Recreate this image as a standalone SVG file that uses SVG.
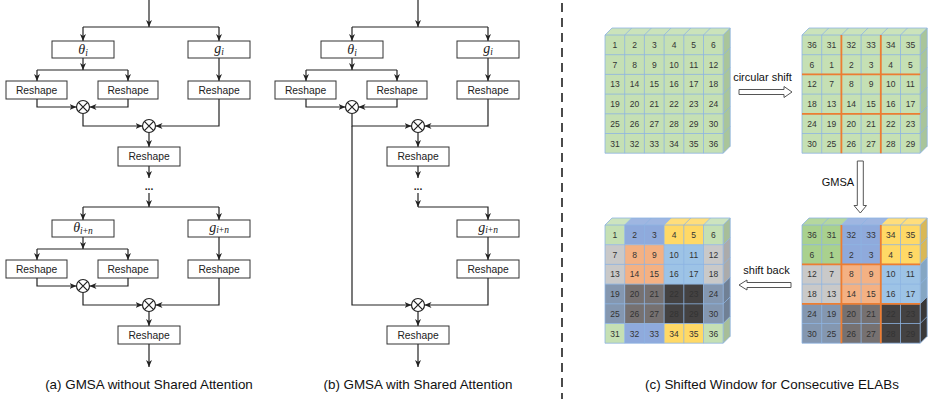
<svg xmlns="http://www.w3.org/2000/svg" width="930" height="399" viewBox="0 0 930 399">
<style>
.box{fill:#fff;stroke:#333;stroke-width:1}
.lbl{font-family:"Liberation Sans",Arial,sans-serif;font-size:10.3px;text-anchor:middle;fill:#222}
.math{font-family:"Liberation Serif","Times New Roman",serif;font-style:italic;font-size:14px;text-anchor:middle;fill:#222}
.ln{fill:none;stroke:#222;stroke-width:1.2}
.arr{marker-end:url(#ah)}
.cap{font-family:"Liberation Sans",Arial,sans-serif;font-size:13.4px;text-anchor:middle;fill:#111}
.num{font-family:"Liberation Sans",Arial,sans-serif;font-size:8.5px;text-anchor:middle;fill:#333}
.gl{fill:none;stroke:#8DB4E2;stroke-width:0.8}
.og{fill:none;stroke:#ED7D31;stroke-width:1.8}
.ha{fill:#fff;stroke:#555;stroke-width:1}
.ot{fill:#fff;stroke:#222;stroke-width:1.2}
.lt{font-family:"Liberation Sans",Arial,sans-serif;font-size:11px;text-anchor:middle;fill:#111}
</style>
<defs>
<marker id="ah" markerWidth="7" markerHeight="6" refX="7" refY="3" orient="auto" markerUnits="userSpaceOnUse"><path d="M0,0 L7,3 L0,6 L2,3 z" fill="#222"/></marker>
<g id="gridlines">
<path class="gl" d="M0,0 H118.2 V118.2 H0 Z M19.7,0 V118.2 M39.4,0 V118.2 M59.1,0 V118.2 M78.8,0 V118.2 M98.5,0 V118.2 M0,19.7 H118.2 M0,39.4 H118.2 M0,59.1 H118.2 M0,78.8 H118.2 M0,98.5 H118.2 M0,0 L7,-7 H125.2 L118.2,0 M19.7,0 l7,-7 M39.4,0 l7,-7 M59.1,0 l7,-7 M78.8,0 l7,-7 M98.5,0 l7,-7 M125.2,-7 V111.2 L118.2,118.2 M118.2,19.7 l7,-7 M118.2,39.4 l7,-7 M118.2,59.1 l7,-7 M118.2,78.8 l7,-7 M118.2,98.5 l7,-7"/>
</g>
<path id="orange" class="og" d="M39.4,0 V118.2 M78.8,0 V118.2 M0,39.4 H118.2 M0,78.8 H118.2"/>
<g id="otimes"><circle class="ot" cx="0" cy="0" r="6.5"/><path class="ln" d="M-4.6,-4.6 L4.6,4.6 M-4.6,4.6 L4.6,-4.6"/></g>
</defs>

<g id="connectors">
<!-- (a) -->
<path class="ln arr" d="M149,0 V27"/>
<path class="ln" d="M83,27 H219"/>
<path class="ln arr" d="M83,27 V41"/>
<path class="ln arr" d="M219,27 V41"/>
<path class="ln arr" d="M83,58 V70"/>
<path class="ln" d="M37,70 H128"/>
<path class="ln arr" d="M37,70 V81"/>
<path class="ln arr" d="M128,70 V81"/>
<path class="ln arr" d="M219,58 V81"/>
<path class="ln arr" d="M37,99 V107 H76.5"/>
<path class="ln arr" d="M128,99 V107 H89.5"/>
<path class="ln arr" d="M83,113.5 V126 H142.5"/>
<path class="ln arr" d="M219,99 V126 H155.5"/>
<path class="ln arr" d="M149,132.5 V147"/>
<path class="ln arr" d="M149,166 V178"/>
<path class="ln arr" d="M149,193 V207"/>
<path class="ln" d="M83,207 H219"/>
<path class="ln arr" d="M83,207 V220"/>
<path class="ln arr" d="M219,207 V220"/>
<path class="ln arr" d="M83,237 V249"/>
<path class="ln" d="M37,249 H128"/>
<path class="ln arr" d="M37,249 V260"/>
<path class="ln arr" d="M128,249 V260"/>
<path class="ln arr" d="M219,237 V260"/>
<path class="ln arr" d="M37,278 V286 H76.5"/>
<path class="ln arr" d="M128,278 V286 H89.5"/>
<path class="ln arr" d="M83,292.5 V305 H142.5"/>
<path class="ln arr" d="M219,278 V305 H155.5"/>
<path class="ln arr" d="M149,311.5 V326"/>
<path class="ln arr" d="M149,344 V367"/>
<!-- (b) -->
<path class="ln arr" d="M418,0 V27"/>
<path class="ln" d="M352,27 H488"/>
<path class="ln arr" d="M352,27 V41"/>
<path class="ln arr" d="M488,27 V41"/>
<path class="ln arr" d="M352,58 V70"/>
<path class="ln" d="M306,70 H397"/>
<path class="ln arr" d="M306,70 V81"/>
<path class="ln arr" d="M397,70 V81"/>
<path class="ln arr" d="M488,58 V81"/>
<path class="ln arr" d="M306,99 V107 H345.5"/>
<path class="ln arr" d="M397,99 V107 H358.5"/>
<path class="ln arr" d="M352,113.5 V126 H411.5"/>
<path class="ln arr" d="M352,126 V305 H411.5"/>
<path class="ln arr" d="M488,99 V126 H424.5"/>
<path class="ln arr" d="M418,132.5 V147"/>
<path class="ln arr" d="M418,166 V178"/>
<path class="ln arr" d="M418,193 V207"/>
<path class="ln arr" d="M418,207 H488 V220"/>
<path class="ln arr" d="M488,237 V260"/>
<path class="ln arr" d="M488,278 V305 H424.5"/>
<path class="ln arr" d="M418,311.5 V326"/>
<path class="ln arr" d="M418,344 V367"/>
<!-- (c) hollow arrows -->
<polygon class="ha" points="739,89.5 784,89.5 784,86.5 792,92 784,97.5 784,94.5 739,94.5"/>
<polygon class="ha" points="857.3,161 863.3,161 863.3,205.5 866.5,205.5 860.3,213 854,205.5 857.3,205.5"/>
<polygon class="ha" points="791,282.5 747,282.5 747,280 739,285 747,290 747,287.5 791,287.5"/>
</g>

<line x1="562" y1="3" x2="562" y2="399" stroke="#111" stroke-width="1.5" stroke-dasharray="9,6"/>

<!-- (a) nodes -->
<g id="a-theta-i"><rect class="box" x="52" y="41" width="62" height="17"/><text class="math" x="83" y="53.5">θ<tspan font-size="9.5" dy="2">i</tspan></text></g>
<g id="a-g-i"><rect class="box" x="188" y="41" width="62" height="17"/><text class="math" x="219" y="53">g<tspan font-size="9.5" dy="1.5">i</tspan></text></g>
<g id="a-reshape-1"><rect class="box" x="6" y="81" width="61" height="18"/><text class="lbl" x="36.5" y="93.6">Reshape</text></g>
<g id="a-reshape-2"><rect class="box" x="98" y="81" width="60" height="18"/><text class="lbl" x="128" y="93.6">Reshape</text></g>
<g id="a-reshape-3"><rect class="box" x="188" y="81" width="62" height="18"/><text class="lbl" x="219" y="93.6">Reshape</text></g>
<g id="a-mul-1"><use href="#otimes" x="83" y="107"/></g>
<g id="a-mul-2"><use href="#otimes" x="149" y="126"/></g>
<g id="a-reshape-4"><rect class="box" x="118" y="147" width="62" height="19"/><text class="lbl" x="149" y="160">Reshape</text></g>
<g id="a-dots"><text class="lbl" x="149" y="190" font-weight="bold">...</text></g>
<g id="a-theta-in"><rect class="box" x="52" y="220" width="62" height="17"/><text class="math" x="83" y="232">θ<tspan font-size="9.5" dy="2">i<tspan font-style="normal">+</tspan>n</tspan></text></g>
<g id="a-g-in"><rect class="box" x="188" y="220" width="62" height="17"/><text class="math" x="219" y="231.5">g<tspan font-size="9.5" dy="1.5">i<tspan font-style="normal">+</tspan>n</tspan></text></g>
<g id="a-reshape-5"><rect class="box" x="6" y="260" width="61" height="18"/><text class="lbl" x="36.5" y="272.6">Reshape</text></g>
<g id="a-reshape-6"><rect class="box" x="98" y="260" width="60" height="18"/><text class="lbl" x="128" y="272.6">Reshape</text></g>
<g id="a-reshape-7"><rect class="box" x="188" y="260" width="62" height="18"/><text class="lbl" x="219" y="272.6">Reshape</text></g>
<g id="a-mul-3"><use href="#otimes" x="83" y="286"/></g>
<g id="a-mul-4"><use href="#otimes" x="149" y="305"/></g>
<g id="a-reshape-8"><rect class="box" x="118" y="326" width="62" height="18"/><text class="lbl" x="149" y="338.6">Reshape</text></g>
<text class="cap" x="149" y="389">(a) GMSA without Shared Attention</text>

<!-- (b) nodes -->
<g id="b-theta-i"><rect class="box" x="321" y="41" width="62" height="17"/><text class="math" x="352" y="53.5">θ<tspan font-size="9.5" dy="2">i</tspan></text></g>
<g id="b-g-i"><rect class="box" x="457" y="41" width="62" height="17"/><text class="math" x="488" y="53">g<tspan font-size="9.5" dy="1.5">i</tspan></text></g>
<g id="b-reshape-1"><rect class="box" x="275" y="81" width="61" height="18"/><text class="lbl" x="305.5" y="93.6">Reshape</text></g>
<g id="b-reshape-2"><rect class="box" x="367" y="81" width="60" height="18"/><text class="lbl" x="397" y="93.6">Reshape</text></g>
<g id="b-reshape-3"><rect class="box" x="457" y="81" width="62" height="18"/><text class="lbl" x="488" y="93.6">Reshape</text></g>
<g id="b-mul-1"><use href="#otimes" x="352" y="107"/></g>
<g id="b-mul-2"><use href="#otimes" x="418" y="126"/></g>
<g id="b-reshape-4"><rect class="box" x="387" y="147" width="62" height="19"/><text class="lbl" x="418" y="160">Reshape</text></g>
<g id="b-dots"><text class="lbl" x="418" y="190" font-weight="bold">...</text></g>
<g id="b-g-in"><rect class="box" x="457" y="220" width="62" height="17"/><text class="math" x="488" y="231.5">g<tspan font-size="9.5" dy="1.5">i<tspan font-style="normal">+</tspan>n</tspan></text></g>
<g id="b-reshape-5"><rect class="box" x="457" y="260" width="62" height="18"/><text class="lbl" x="488" y="272.6">Reshape</text></g>
<g id="b-mul-3"><use href="#otimes" x="418" y="305"/></g>
<g id="b-reshape-6"><rect class="box" x="387" y="326" width="62" height="18"/><text class="lbl" x="418" y="338.6">Reshape</text></g>
<text class="cap" x="418" y="389">(b) GMSA with Shared Attention</text>

<!-- (c) grids -->
<g id="grid-original" transform="translate(605,35)">
<rect width="118.2" height="118.2" fill="#C5E0B4"/>
<polygon points="0,0 7,-7 125.2,-7 118.2,0" fill="#CBE3BB"/>
<polygon points="118.2,0 125.2,-7 125.2,111.2 118.2,118.2" fill="#A9C59B"/>
<use href="#gridlines"/>
<text class="num" x="9.9" y="13">1</text><text class="num" x="29.6" y="13">2</text><text class="num" x="49.3" y="13">3</text><text class="num" x="69" y="13">4</text><text class="num" x="88.7" y="13">5</text><text class="num" x="108.4" y="13">6</text>
<text class="num" x="9.9" y="32.7">7</text><text class="num" x="29.6" y="32.7">8</text><text class="num" x="49.3" y="32.7">9</text><text class="num" x="69" y="32.7">10</text><text class="num" x="88.7" y="32.7">11</text><text class="num" x="108.4" y="32.7">12</text>
<text class="num" x="9.9" y="52.4">13</text><text class="num" x="29.6" y="52.4">14</text><text class="num" x="49.3" y="52.4">15</text><text class="num" x="69" y="52.4">16</text><text class="num" x="88.7" y="52.4">17</text><text class="num" x="108.4" y="52.4">18</text>
<text class="num" x="9.9" y="72.1">19</text><text class="num" x="29.6" y="72.1">20</text><text class="num" x="49.3" y="72.1">21</text><text class="num" x="69" y="72.1">22</text><text class="num" x="88.7" y="72.1">23</text><text class="num" x="108.4" y="72.1">24</text>
<text class="num" x="9.9" y="91.8">25</text><text class="num" x="29.6" y="91.8">26</text><text class="num" x="49.3" y="91.8">27</text><text class="num" x="69" y="91.8">28</text><text class="num" x="88.7" y="91.8">29</text><text class="num" x="108.4" y="91.8">30</text>
<text class="num" x="9.9" y="111.5">31</text><text class="num" x="29.6" y="111.5">32</text><text class="num" x="49.3" y="111.5">33</text><text class="num" x="69" y="111.5">34</text><text class="num" x="88.7" y="111.5">35</text><text class="num" x="108.4" y="111.5">36</text>
</g>

<g id="grid-shifted" transform="translate(802,35)">
<rect width="118.2" height="118.2" fill="#C5E0B4"/>
<polygon points="0,0 7,-7 125.2,-7 118.2,0" fill="#CBE3BB"/>
<polygon points="118.2,0 125.2,-7 125.2,111.2 118.2,118.2" fill="#A9C59B"/>
<use href="#gridlines"/>
<use href="#orange"/>
<text class="num" x="9.9" y="13">36</text><text class="num" x="29.6" y="13">31</text><text class="num" x="49.3" y="13">32</text><text class="num" x="69" y="13">33</text><text class="num" x="88.7" y="13">34</text><text class="num" x="108.4" y="13">35</text>
<text class="num" x="9.9" y="32.7">6</text><text class="num" x="29.6" y="32.7">1</text><text class="num" x="49.3" y="32.7">2</text><text class="num" x="69" y="32.7">3</text><text class="num" x="88.7" y="32.7">4</text><text class="num" x="108.4" y="32.7">5</text>
<text class="num" x="9.9" y="52.4">12</text><text class="num" x="29.6" y="52.4">7</text><text class="num" x="49.3" y="52.4">8</text><text class="num" x="69" y="52.4">9</text><text class="num" x="88.7" y="52.4">10</text><text class="num" x="108.4" y="52.4">11</text>
<text class="num" x="9.9" y="72.1">18</text><text class="num" x="29.6" y="72.1">13</text><text class="num" x="49.3" y="72.1">14</text><text class="num" x="69" y="72.1">15</text><text class="num" x="88.7" y="72.1">16</text><text class="num" x="108.4" y="72.1">17</text>
<text class="num" x="9.9" y="91.8">24</text><text class="num" x="29.6" y="91.8">19</text><text class="num" x="49.3" y="91.8">20</text><text class="num" x="69" y="91.8">21</text><text class="num" x="88.7" y="91.8">22</text><text class="num" x="108.4" y="91.8">23</text>
<text class="num" x="9.9" y="111.5">30</text><text class="num" x="29.6" y="111.5">25</text><text class="num" x="49.3" y="111.5">26</text><text class="num" x="69" y="111.5">27</text><text class="num" x="88.7" y="111.5">28</text><text class="num" x="108.4" y="111.5">29</text>
</g>

<g id="grid-attended" transform="translate(802,225)">
<rect x="0" y="0" width="39.4" height="39.4" fill="#A9D18E"/>
<rect x="39.4" y="0" width="39.4" height="39.4" fill="#8FAADC"/>
<rect x="78.8" y="0" width="39.4" height="39.4" fill="#FFD966"/>
<rect x="0" y="39.4" width="39.4" height="39.4" fill="#C9C9C9"/>
<rect x="39.4" y="39.4" width="39.4" height="39.4" fill="#F4B183"/>
<rect x="78.8" y="39.4" width="39.4" height="39.4" fill="#9DC3E6"/>
<rect x="0" y="78.8" width="39.4" height="39.4" fill="#8497B0"/>
<rect x="39.4" y="78.8" width="39.4" height="39.4" fill="#767171"/>
<rect x="78.8" y="78.8" width="39.4" height="39.4" fill="#444242"/>
<polygon points="0,0 39.4,0 46.4,-7 7,-7" fill="#A9D18E"/>
<polygon points="39.4,0 78.8,0 85.8,-7 46.4,-7" fill="#8FAADC"/>
<polygon points="78.8,0 118.2,0 125.2,-7 85.8,-7" fill="#FFD966"/>
<polygon points="118.2,0 125.2,-7 125.2,32.4 118.2,39.4" fill="#FFD966"/>
<polygon points="118.2,39.4 125.2,32.4 125.2,71.8 118.2,78.8" fill="#9DC3E6"/>
<polygon points="118.2,78.8 125.2,71.8 125.2,111.2 118.2,118.2" fill="#444242"/>
<polygon points="0,0 7,-7 125.2,-7 118.2,0" fill="#fff" opacity="0.15"/>
<polygon points="118.2,0 125.2,-7 125.2,111.2 118.2,118.2" fill="#000" opacity="0.15"/>
<use href="#gridlines"/>
<use href="#orange"/>
<text class="num" x="9.9" y="13">36</text><text class="num" x="29.6" y="13">31</text><text class="num" x="49.3" y="13">32</text><text class="num" x="69" y="13">33</text><text class="num" x="88.7" y="13">34</text><text class="num" x="108.4" y="13">35</text>
<text class="num" x="9.9" y="32.7">6</text><text class="num" x="29.6" y="32.7">1</text><text class="num" x="49.3" y="32.7">2</text><text class="num" x="69" y="32.7">3</text><text class="num" x="88.7" y="32.7">4</text><text class="num" x="108.4" y="32.7">5</text>
<text class="num" x="9.9" y="52.4">12</text><text class="num" x="29.6" y="52.4">7</text><text class="num" x="49.3" y="52.4">8</text><text class="num" x="69" y="52.4">9</text><text class="num" x="88.7" y="52.4">10</text><text class="num" x="108.4" y="52.4">11</text>
<text class="num" x="9.9" y="72.1">18</text><text class="num" x="29.6" y="72.1">13</text><text class="num" x="49.3" y="72.1">14</text><text class="num" x="69" y="72.1">15</text><text class="num" x="88.7" y="72.1">16</text><text class="num" x="108.4" y="72.1">17</text>
<text class="num" x="9.9" y="91.8">24</text><text class="num" x="29.6" y="91.8">19</text><text class="num" x="49.3" y="91.8">20</text><text class="num" x="69" y="91.8">21</text><text class="num" x="88.7" y="91.8" fill="#111">22</text><text class="num" x="108.4" y="91.8" fill="#111">23</text>
<text class="num" x="9.9" y="111.5">30</text><text class="num" x="29.6" y="111.5">25</text><text class="num" x="49.3" y="111.5">26</text><text class="num" x="69" y="111.5">27</text><text class="num" x="88.7" y="111.5" fill="#111">28</text><text class="num" x="108.4" y="111.5" fill="#111">29</text>
</g>

<g id="grid-restored" transform="translate(605,225)">
<rect x="0" y="0" width="19.7" height="19.7" fill="#C5E0B4"/>
<rect x="98.5" y="0" width="19.7" height="19.7" fill="#C5E0B4"/>
<rect x="0" y="98.5" width="19.7" height="19.7" fill="#C5E0B4"/>
<rect x="98.5" y="98.5" width="19.7" height="19.7" fill="#C5E0B4"/>
<rect x="19.7" y="0" width="39.4" height="19.7" fill="#8FAADC"/>
<rect x="19.7" y="98.5" width="39.4" height="19.7" fill="#8FAADC"/>
<rect x="59.1" y="0" width="39.4" height="19.7" fill="#FFD966"/>
<rect x="59.1" y="98.5" width="39.4" height="19.7" fill="#FFD966"/>
<rect x="0" y="19.7" width="19.7" height="39.4" fill="#C9C9C9"/>
<rect x="98.5" y="19.7" width="19.7" height="39.4" fill="#C9C9C9"/>
<rect x="19.7" y="19.7" width="39.4" height="39.4" fill="#F4B183"/>
<rect x="59.1" y="19.7" width="39.4" height="39.4" fill="#9DC3E6"/>
<rect x="0" y="59.1" width="19.7" height="39.4" fill="#8497B0"/>
<rect x="98.5" y="59.1" width="19.7" height="39.4" fill="#8497B0"/>
<rect x="19.7" y="59.1" width="39.4" height="39.4" fill="#767171"/>
<rect x="59.1" y="59.1" width="39.4" height="39.4" fill="#444242"/>
<polygon points="0,0 19.7,0 26.7,-7 7,-7" fill="#C5E0B4"/>
<polygon points="19.7,0 59.1,0 66.1,-7 26.7,-7" fill="#8FAADC"/>
<polygon points="59.1,0 98.5,0 105.5,-7 66.1,-7" fill="#FFD966"/>
<polygon points="98.5,0 118.2,0 125.2,-7 105.5,-7" fill="#C5E0B4"/>
<polygon points="118.2,0 125.2,-7 125.2,12.7 118.2,19.7" fill="#C5E0B4"/>
<polygon points="118.2,19.7 125.2,12.7 125.2,52.1 118.2,59.1" fill="#C9C9C9"/>
<polygon points="118.2,59.1 125.2,52.1 125.2,91.5 118.2,98.5" fill="#8497B0"/>
<polygon points="118.2,98.5 125.2,91.5 125.2,111.2 118.2,118.2" fill="#C5E0B4"/>
<polygon points="0,0 7,-7 125.2,-7 118.2,0" fill="#fff" opacity="0.15"/>
<polygon points="118.2,0 125.2,-7 125.2,111.2 118.2,118.2" fill="#000" opacity="0.15"/>
<use href="#gridlines"/>
<text class="num" x="9.9" y="13">1</text><text class="num" x="29.6" y="13">2</text><text class="num" x="49.3" y="13">3</text><text class="num" x="69" y="13">4</text><text class="num" x="88.7" y="13">5</text><text class="num" x="108.4" y="13">6</text>
<text class="num" x="9.9" y="32.7">7</text><text class="num" x="29.6" y="32.7">8</text><text class="num" x="49.3" y="32.7">9</text><text class="num" x="69" y="32.7">10</text><text class="num" x="88.7" y="32.7">11</text><text class="num" x="108.4" y="32.7">12</text>
<text class="num" x="9.9" y="52.4">13</text><text class="num" x="29.6" y="52.4">14</text><text class="num" x="49.3" y="52.4">15</text><text class="num" x="69" y="52.4">16</text><text class="num" x="88.7" y="52.4">17</text><text class="num" x="108.4" y="52.4">18</text>
<text class="num" x="9.9" y="72.1">19</text><text class="num" x="29.6" y="72.1">20</text><text class="num" x="49.3" y="72.1">21</text><text class="num" x="69" y="72.1" fill="#111">22</text><text class="num" x="88.7" y="72.1" fill="#111">23</text><text class="num" x="108.4" y="72.1">24</text>
<text class="num" x="9.9" y="91.8">25</text><text class="num" x="29.6" y="91.8">26</text><text class="num" x="49.3" y="91.8">27</text><text class="num" x="69" y="91.8" fill="#111">28</text><text class="num" x="88.7" y="91.8" fill="#111">29</text><text class="num" x="108.4" y="91.8">30</text>
<text class="num" x="9.9" y="111.5">31</text><text class="num" x="29.6" y="111.5">32</text><text class="num" x="49.3" y="111.5">33</text><text class="num" x="69" y="111.5">34</text><text class="num" x="88.7" y="111.5">35</text><text class="num" x="108.4" y="111.5">36</text>
</g>

<text class="lt" x="762.5" y="81">circular shift</text>
<text class="lt" x="838" y="186">GMSA</text>
<text class="lt" x="766.5" y="274">shift back</text>
<text class="cap" x="772" y="389">(c) Shifted Window for Consecutive ELABs</text>
</svg>
